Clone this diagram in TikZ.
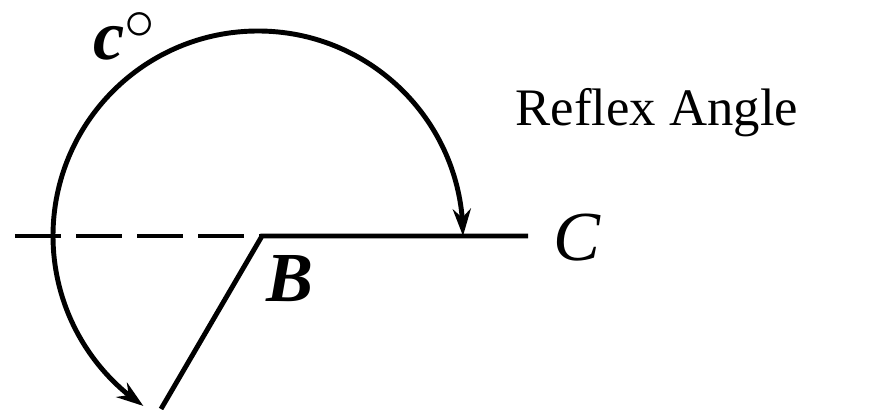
\documentclass[tikz,border=0pt]{standalone}
\usepackage{fontspec}
\setmainfont{Liberation Serif}
\usetikzlibrary{arrows.meta,bending}

\begin{document}
\begin{tikzpicture}[
    trait/.style={line width=1.4pt},
    >={Stealth[length=0.27cm,width=0.18cm,flex]},
    lettre/.style={font=\fontsize{20}{22}\selectfont\itshape, inner sep=0pt}
  ]
        \useasboundingbox (0,0) rectangle (8.89,4.10);

        % Points
        \coordinate (B) at (2.62,1.74);
        \coordinate (C) at (5.28,1.74);
        \coordinate (D) at (0.15,1.74);
        \coordinate (A) at (1.61,0.01);
        \coordinate (O) at (2.58,1.74);

        % Demi-droites
        \draw[trait, dash pattern=on 0.46cm off 0.15cm] (D) -- (B);
        \draw[trait, line join=miter] (C) -- (B) -- (A);

        % Arc de l'angle rentrant
        \draw[trait, <->] ([xshift=2.05cm]O) arc (0:236:2.05);

        % Noms
        \node[lettre, anchor=base] (nB) at (2.90,1.08) {\textbf{B}};
        \node[lettre, anchor=base] (nC) at (5.77,1.49) {C};
        \node[lettre, anchor=base] (nc) at (1.24,3.50) {\textbf{c}\raisebox{0.65ex}{\fontsize{16}{18}\selectfont$\circ$}};
        \node[font=\fontsize{15}{18}\selectfont, anchor=base west, inner sep=0pt] (titre) at (5.15,2.84) {Reflex Angle};
    \end{tikzpicture}
\end{document}
